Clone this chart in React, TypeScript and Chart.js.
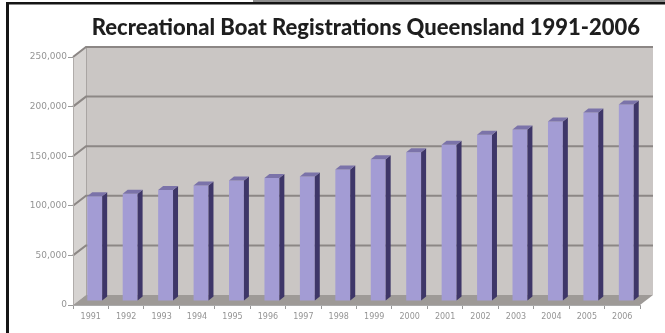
import { useEffect, useRef } from 'react';
import { Chart, registerables } from 'chart.js';

Chart.register(...registerables);

const years = ['1991', '1992', '1993', '1994', '1995', '1996', '1997', '1998', '1999', '2000', '2001', '2002', '2003', '2004', '2005', '2006'];
const registrations = [105500, 108000, 112000, 116500, 121500, 124000, 125500, 132500, 143000, 150000, 157500, 167500, 173000, 181000, 190000, 198000];
const yTickValues = [0, 50000, 100000, 150000, 200000, 250000];
const titleText = 'Recreational Boat Registrations Queensland 1991-2006';

// faux 3D geometry (pixels)
const WALL_DX = 13;
const WALL_DY = -10;
const BAR_SHIFT_X = 4;
const BAR_SHIFT_Y = -4;
const BAR_DX = 5;
const BAR_DY = -4;

const faux3d = {
  id: 'faux3d',
  beforeDraw(chart: any) {
    const { ctx, chartArea: a } = chart;
    const y = chart.scales.y;
    ctx.save();
    ctx.fillStyle = '#ffffff';
    ctx.fillRect(0, 0, chart.width, chart.height);
    // page strip above the frame
    ctx.fillStyle = '#8e8e8e';
    ctx.fillRect(253, 0, chart.width - 253, 2);
    // frame
    ctx.fillStyle = '#151515';
    ctx.fillRect(6, 2, chart.width - 6, 2.5);
    ctx.fillRect(6, 2, 3, chart.height - 2);

    const top = y.getPixelForValue(yTickValues[yTickValues.length - 1]);
    const bottom = y.getPixelForValue(0);
    // back wall
    ctx.fillStyle = '#cac6c4';
    ctx.fillRect(a.left + WALL_DX, top + WALL_DY - 1, a.right - a.left, bottom - top + 1);
    // left wall
    ctx.fillStyle = '#d6d3d1';
    ctx.beginPath();
    ctx.moveTo(a.left, top);
    ctx.lineTo(a.left + WALL_DX, top + WALL_DY - 1);
    ctx.lineTo(a.left + WALL_DX, bottom + WALL_DY);
    ctx.lineTo(a.left, bottom);
    ctx.closePath();
    ctx.fill();
    // floor
    ctx.fillStyle = '#9e9a97';
    ctx.beginPath();
    ctx.moveTo(a.left, bottom);
    ctx.lineTo(a.right, bottom);
    ctx.lineTo(a.right + WALL_DX, bottom + WALL_DY);
    ctx.lineTo(a.left + WALL_DX, bottom + WALL_DY);
    ctx.closePath();
    ctx.fill();
    // back-left corner edge
    ctx.strokeStyle = '#a9a5a3';
    ctx.lineWidth = 1;
    ctx.beginPath();
    ctx.moveTo(a.left + WALL_DX + 0.5, top + WALL_DY - 1);
    ctx.lineTo(a.left + WALL_DX + 0.5, bottom + WALL_DY);
    ctx.stroke();
    // gridlines on back wall
    ctx.strokeStyle = '#8c8785';
    ctx.lineWidth = 2;
    yTickValues.forEach((v) => {
      if (v === 0) return;
      const py = y.getPixelForValue(v);
      ctx.beginPath();
      ctx.moveTo(a.left, py);
      ctx.lineTo(a.left + WALL_DX, py + WALL_DY);
      ctx.lineTo(a.right + WALL_DX, py + WALL_DY);
      ctx.stroke();
    });
    ctx.restore();
  },
  beforeDatasetsDraw(chart: any) {
    chart.ctx.save();
    chart.ctx.translate(BAR_SHIFT_X, BAR_SHIFT_Y);
  },
  afterDatasetsDraw(chart: any) {
    const ctx = chart.ctx;
    const meta = chart.getDatasetMeta(0);
    meta.data.forEach((el: any) => {
      const { x, y, base, width } = el.getProps(['x', 'y', 'base', 'width'], true);
      const l = x - width / 2;
      const r = x + width / 2;
      ctx.fillStyle = '#3e3668';
      ctx.beginPath();
      ctx.moveTo(r, y);
      ctx.lineTo(r + BAR_DX, y + BAR_DY);
      ctx.lineTo(r + BAR_DX, base + BAR_DY);
      ctx.lineTo(r, base);
      ctx.closePath();
      ctx.fill();
      ctx.fillStyle = '#7b73a9';
      ctx.beginPath();
      ctx.moveTo(l, y);
      ctx.lineTo(l + BAR_DX, y + BAR_DY);
      ctx.lineTo(r + BAR_DX, y + BAR_DY);
      ctx.lineTo(r, y);
      ctx.closePath();
      ctx.fill();
    });
    ctx.restore();
  },
};

export default function App() {
  const ref = useRef<HTMLCanvasElement | null>(null);
  useEffect(() => {
    if (!ref.current) return;
    const chart = new Chart(ref.current, {
      type: 'bar',
      data: {
        labels: years,
        datasets: [
          {
            data: registrations,
            backgroundColor: '#a39cd4',
            borderWidth: 0,
            barPercentage: 0.42,
            categoryPercentage: 1,
          },
        ],
      },
      options: {
        responsive: false,
        animation: false,
        layout: { padding: { left: 0, right: 25, top: 0, bottom: 0 } },
        plugins: {
          legend: { display: false },
          tooltip: { enabled: false },
          title: {
            display: true,
            text: titleText,
            align: 'end',
            color: '#1e1e1e',
            font: { family: 'Lato', size: 22, weight: '900' },
            padding: { top: 15, bottom: 15.6 },
          },
        },
        scales: {
          x: {
            offset: true,
            grid: { display: true, drawOnChartArea: false, offset: true, tickLength: 4, color: '#999999' },
            border: { display: true, color: '#aaaaaa' },
            ticks: { color: '#949494', padding: 3, font: { family: 'DejaVu Sans', size: 8 } },
            afterFit: (s: any) => { s.height = 28; },
          },
          y: {
            min: 0,
            max: 250000,
            grid: { display: true, drawOnChartArea: false, tickLength: 5, color: '#999999' },
            border: { display: true, color: '#b0acaa' },
            ticks: {
              stepSize: 50000,
              padding: 1,
              color: '#949494',
              font: { family: 'DejaVu Sans', size: 9 },
              callback: (v: any) => Number(v).toLocaleString('en-US'),
            },
            afterFit: (s: any) => { s.width = 73; },
          },
        },
      },
      plugins: [faux3d],
    });
    return () => chart.destroy();
  }, []);
  return (
    <div style={{ position: 'absolute', left: 0, top: 0, width: 665, height: 333 }}>
      <canvas ref={ref} width={665} height={333} />
    </div>
  );
}
